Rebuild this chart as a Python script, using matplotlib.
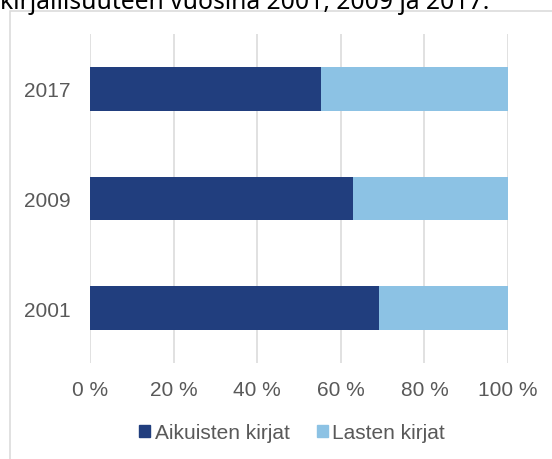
import matplotlib
matplotlib.use('Agg')
import matplotlib.pyplot as plt
import matplotlib.patches as mpatches

FONT = 'Liberation Sans'
GREY = '#595959'
FONT_SIZE = 15

years = ['2001', '2009', '2017']
adult_pct = [69.2, 62.8, 55.3]
child_pct = [100 - v for v in adult_pct]
series_labels = ['Aikuisten kirjat', 'Lasten kirjat']
x_ticks = [0, 20, 40, 60, 80, 100]
x_tick_labels = ['0 %', '20 %', '40 %', '60 %', '80 %', '100 %']
caption = 'kirjallisuuteen vuosina 2001, 2009 ja 2017.'

colors = ['#213E7E', '#8CC2E4']

fig = plt.figure(figsize=(5.52, 4.6), dpi=100)
ax = fig.add_axes([90 / 552, 96 / 460, 418 / 552, 329 / 460])

ypos = list(range(len(years)))
ax.barh(ypos, adult_pct, height=0.4, color=colors[0], zorder=3)
ax.barh(ypos, child_pct, left=adult_pct, height=0.4, color=colors[1], zorder=3)

ax.set_xlim(0, 100)
ax.set_ylim(-0.5, 2.5)
ax.set_xticks(x_ticks)
ax.set_xticklabels(x_tick_labels)
ax.set_yticks(ypos)
ax.set_yticklabels(years)
ax.grid(axis='x', color='#D9D9D9', linewidth=1.1, zorder=0)
for s in ax.spines.values():
    s.set_visible(False)
ax.tick_params(axis='both', length=0, labelsize=FONT_SIZE, labelcolor=GREY)
ax.tick_params(axis='x', pad=12.5)
ax.tick_params(axis='y', pad=14)
for lab in ax.get_xticklabels() + ax.get_yticklabels():
    lab.set_family(FONT)

# 图例
handles = [mpatches.Patch(color=c, label=l) for c, l in zip(colors, series_labels)]
leg = fig.legend(handles=handles, ncol=2, loc='center', bbox_to_anchor=(0.529, 26 / 460),
                 frameon=False, handlelength=0.55, handleheight=0.55, handletextpad=0.2,
                 columnspacing=1.3, prop={'family': FONT, 'size': FONT_SIZE})
for t in leg.get_texts():
    t.set_color(GREY)

# frame of the chart box (cut off at right and bottom)
frame = mpatches.Rectangle((10 / 552, -0.2), 2, (460 - 12) / 460 + 0.2,
                           transform=fig.transFigure, fill=False,
                           edgecolor='#D9D9D9', linewidth=1.1)
fig.patches.append(frame)

fig.text(0.0, (460 - 9) / 460, caption, family='Noto Sans', fontsize=17.8,
         ha='left', va='baseline', color='black')

fig.savefig('out.png', dpi=100)
